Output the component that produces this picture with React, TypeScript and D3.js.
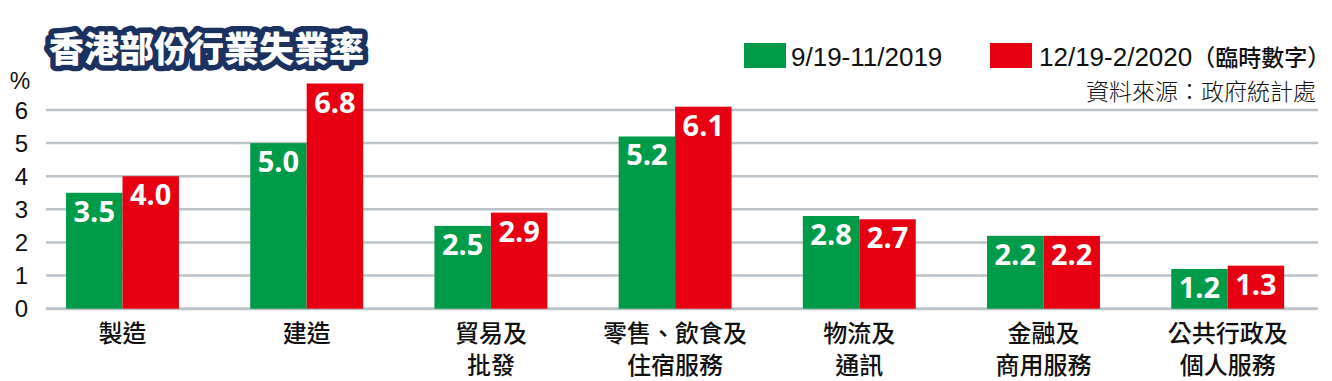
import React from "react";
import * as d3 from "d3";

const categories: string[][] = [
  ["製造"],
  ["建造"],
  ["貿易及", "批發"],
  ["零售、飲食及", "住宿服務"],
  ["物流及", "通訊"],
  ["金融及", "商用服務"],
  ["公共行政及", "個人服務"],
];
const seriesNames = ["9/19-11/2019", "12/19-2/2020"];
const series2019 = [3.5, 5.0, 2.5, 5.2, 2.8, 2.2, 1.2];
const series2020 = [4.0, 6.8, 2.9, 6.1, 2.7, 2.2, 1.3];
const yTicks = [0, 1, 2, 3, 4, 5, 6];
const colors = ["#009b48", "#e60012"];

const W = 1332;
const H = 381;

export default function App() {
  const keys = categories.map((c) => c.join(""));
  const x = d3
    .scaleBand<string>()
    .domain(keys)
    .range([30.4, 1319.8])
    .paddingInner(0.387)
    .paddingOuter(0.1935);
  const x1 = d3.scaleBand<number>().domain([0, 1]).range([0, x.bandwidth()]);
  const y = d3.scaleLinear().domain([0, 6]).range([308.7, 110]);
  const data = [series2019, series2020];
  const sans = "'Liberation Sans', Arial, sans-serif";
  const cjk = "'Noto Sans CJK TC', sans-serif";
  const num = "'Open Sans', sans-serif";

  return (
    <svg
      width={W}
      height={H}
      style={{ position: "absolute", left: 0, top: 0, background: "#fff" }}
    >
      {/* grid */}
      {yTicks.map((t) => (
        <g key={t}>
          <line
            x1={46}
            x2={1318}
            y1={y(t)}
            y2={y(t)}
            stroke="#bcc3c9"
            strokeWidth={t === 0 ? 3 : 2.5}
          />
          <text
            x={28}
            y={y(t) + 8.5}
            textAnchor="end"
            fontFamily={sans}
            fontSize={24}
            fill="#111"
          >
            {t}
          </text>
        </g>
      ))}
      <text x={20} y={89} textAnchor="middle" fontFamily={sans} fontSize={23} fill="#111">
        %
      </text>

      {/* bars */}
      {keys.map((k, i) => (
        <g key={k} transform={`translate(${x(k)},0)`}>
          {data.map((s, j) => (
            <g key={j}>
              <rect
                x={x1(j)}
                y={y(s[i])}
                width={x1.bandwidth()}
                height={y(0) - y(s[i])}
                fill={colors[j]}
              />
              <text
                x={(x1(j) as number) + x1.bandwidth() / 2}
                y={y(s[i]) + 29}
                textAnchor="middle"
                fontFamily={num}
                fontWeight={700}
                fontSize={29}
                fill="#fff"
              >
                {s[i].toFixed(1)}
              </text>
            </g>
          ))}
          {categories[i].map((line, li) => (
            <text
              key={li}
              x={x.bandwidth() / 2}
              y={342 + li * 32}
              textAnchor="middle"
              fontFamily={cjk}
              fontWeight={500}
              fontSize={24}
              fill="#111"
            >
              {line}
            </text>
          ))}
        </g>
      ))}

      {/* title */}
      <g fontFamily={cjk} fontWeight={900} fontSize={35}>
        <text
          x={49}
          y={62}
          fill="#1b3260"
          stroke="#1b3260"
          strokeWidth={11}
          strokeLinejoin="round"
        >
          香港部份行業失業率
        </text>
        <text x={49} y={62} fill="#fff">
          香港部份行業失業率
        </text>
      </g>

      {/* legend */}
      <rect x={744} y={43} width={42} height={25} fill={colors[0]} />
      <text x={791} y={66} fontFamily={sans} fontSize={26} fill="#111">
        {seriesNames[0]}
      </text>
      <rect x={990} y={43} width={42} height={25} fill={colors[1]} />
      <text x={1039} y={66} fontFamily={sans} fontSize={26} fill="#111">
        {seriesNames[1]}
        <tspan fontFamily={cjk} fontSize={23} fontWeight={500}>
          （臨時數字）
        </tspan>
      </text>
      <text
        x={1316}
        y={100}
        textAnchor="end"
        fontFamily={cjk}
        fontWeight={300}
        fontSize={23}
        fill="#111"
      >
        資料來源：政府統計處
      </text>
    </svg>
  );
}
